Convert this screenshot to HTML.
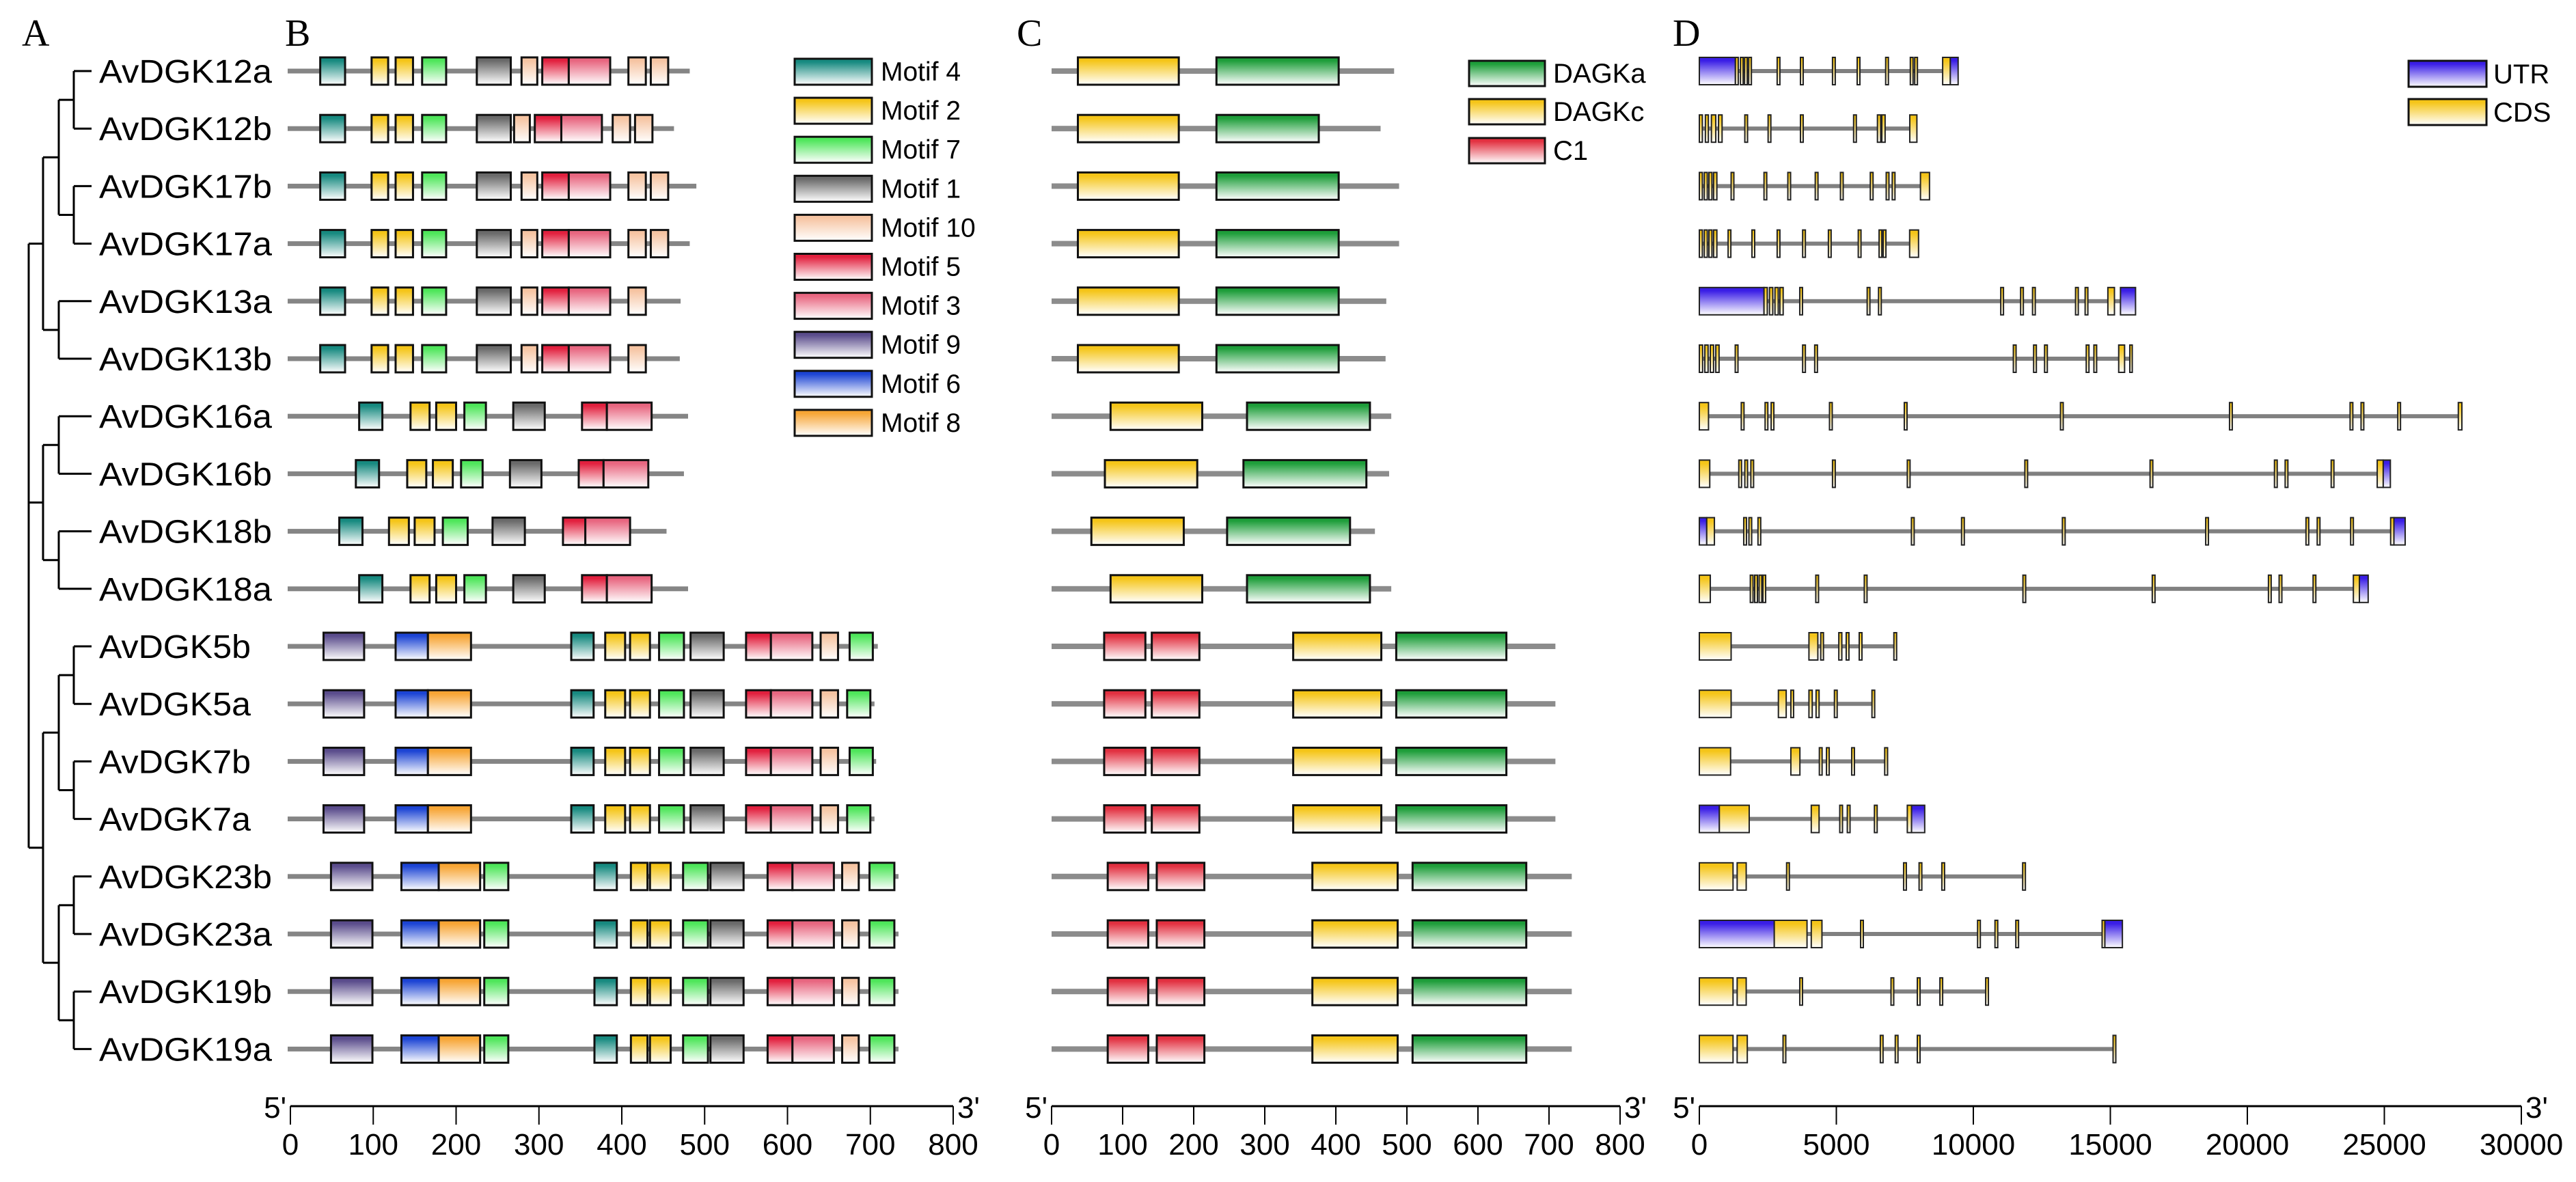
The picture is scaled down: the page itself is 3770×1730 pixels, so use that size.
<!DOCTYPE html>
<html><head><meta charset="utf-8"><style>
html,body{margin:0;padding:0;background:#fff;}
svg{display:block;}
</style></head><body>
<svg id="fig" xmlns="http://www.w3.org/2000/svg" width="3770" height="1730" viewBox="0 0 3770 1730">
<defs id="gradDefs"></defs>
<g font-family="Liberation Serif, serif" font-size="56" fill="#000">
<text x="32" y="67">A</text>
<text x="417" y="67">B</text>
<text x="1488" y="67">C</text>
<text x="2448" y="67">D</text>
</g>
<g id="treeG"></g>
<g id="labelsG"></g>
<g id="panelB"></g>
<g id="panelC"></g>
<g id="panelD"></g>
<g id="legendsG"></g>
<g id="axesG"></g>
</svg>
<script>
const names = ["AvDGK12a","AvDGK12b","AvDGK17b","AvDGK17a","AvDGK13a","AvDGK13b","AvDGK16a","AvDGK16b","AvDGK18b","AvDGK18a","AvDGK5b","AvDGK5a","AvDGK7b","AvDGK7a","AvDGK23b","AvDGK23a","AvDGK19b","AvDGK19a"];
const bLen = [482,463,490,482,471,470,480,475,454,480,709,705,707,705,734,734,734,734];
const bMotifs = [
 [[4,36,66],[2,98,118],[2,127,148],[7,159,188],[1,225,266],[10,279,298],[5,304,336],[3,336,386],[10,408,429],[10,435,456]],
 [[4,36,66],[2,98,118],[2,127,148],[7,159,188],[1,225,266],[10,270,289],[5,295,327],[3,327,376],[10,389,410],[10,416,437]],
 [[4,36,66],[2,98,118],[2,127,148],[7,159,188],[1,225,266],[10,279,298],[5,304,336],[3,336,386],[10,408,429],[10,435,456]],
 [[4,36,66],[2,98,118],[2,127,148],[7,159,188],[1,225,266],[10,279,298],[5,304,336],[3,336,386],[10,408,429],[10,435,456]],
 [[4,36,66],[2,98,118],[2,127,148],[7,159,188],[1,225,266],[10,279,298],[5,304,336],[3,336,386],[10,408,429]],
 [[4,36,66],[2,98,118],[2,127,148],[7,159,188],[1,225,266],[10,279,298],[5,304,336],[3,336,386],[10,408,429]],
 [[4,83,111],[2,145,168],[2,176,200],[7,210,236],[1,269,307],[5,352,382],[3,382,436]],
 [[4,79,107],[2,141,164],[2,172,196],[7,206,232],[1,265,303],[5,348,378],[3,378,432]],
 [[4,59,87],[2,119,143],[2,150,174],[7,184,214],[1,244,283],[5,329,356],[3,356,410]],
 [[4,83,111],[2,145,168],[2,176,200],[7,210,236],[1,269,307],[5,352,382],[3,382,436]],
 [[9,40,89],[6,127,166],[8,166,218],[4,339,366],[2,380,404],[2,410,434],[7,445,475],[1,483,523],[5,550,580],[3,580,630],[10,640,661],[7,675,703]],
 [[9,40,89],[6,127,166],[8,166,218],[4,339,366],[2,380,404],[2,410,434],[7,445,475],[1,483,523],[5,550,580],[3,580,630],[10,640,661],[7,672,700]],
 [[9,40,89],[6,127,166],[8,166,218],[4,339,366],[2,380,404],[2,410,434],[7,445,475],[1,483,523],[5,550,580],[3,580,630],[10,640,661],[7,675,703]],
 [[9,40,89],[6,127,166],[8,166,218],[4,339,366],[2,380,404],[2,410,434],[7,445,475],[1,483,523],[5,550,580],[3,580,630],[10,640,661],[7,672,700]],
 [[9,49,99],[6,134,179],[8,179,229],[7,234,263],[4,367,394],[2,411,431],[2,434,459],[7,474,504],[1,507,547],[5,576,606],[3,606,656],[10,666,686],[7,699,729]],
 [[9,49,99],[6,134,179],[8,179,229],[7,234,263],[4,367,394],[2,411,431],[2,434,459],[7,474,504],[1,507,547],[5,576,606],[3,606,656],[10,666,686],[7,699,729]],
 [[9,49,99],[6,134,179],[8,179,229],[7,234,263],[4,367,394],[2,411,431],[2,434,459],[7,474,504],[1,507,547],[5,576,606],[3,606,656],[10,666,686],[7,699,729]],
 [[9,49,99],[6,134,179],[8,179,229],[7,234,263],[4,367,394],[2,411,431],[2,434,459],[7,474,504],[1,507,547],[5,576,606],[3,606,656],[10,666,686],[7,699,729]]
];
const motifOrder = [4,2,7,1,10,5,3,9,6,8];
const motifColors = {4:"#178a80",2:"#f5c518",7:"#4ee65a",1:"#6a6a6a",10:"#f6c4a2",5:"#e2203e",3:"#e86680",9:"#5a4c8c",6:"#1c44d4",8:"#f7a534"};
const cLen = [482,463,489,489,471,470,478,475,455,478,709,709,709,709,732,732,732,732];
const cDomains = [
 [["c",37,179],["a",232,404]],[["c",37,179],["a",232,376]],[["c",37,179],["a",232,404]],[["c",37,179],["a",232,404]],
 [["c",37,179],["a",232,404]],[["c",37,179],["a",232,404]],
 [["c",83,212],["a",275,448]],[["c",75,205],["a",270,443]],[["c",56,186],["a",247,420]],[["c",83,212],["a",275,448]],
 [["C1",74,132],["C1",141,208],["c",340,464],["a",485,640]],[["C1",74,132],["C1",141,208],["c",340,464],["a",485,640]],
 [["C1",74,132],["C1",141,208],["c",340,464],["a",485,640]],[["C1",74,132],["C1",141,208],["c",340,464],["a",485,640]],
 [["C1",79,136],["C1",148,215],["c",367,487],["a",508,668]],[["C1",79,136],["C1",148,215],["c",367,487],["a",508,668]],
 [["C1",79,136],["C1",148,215],["c",367,487],["a",508,668]],[["C1",79,136],["C1",148,215],["c",367,487],["a",508,668]]
];
const domainColors = {a:"#1e9e3a",c:"#f5c518",C1:"#e23040"};
const dLen = [9445,7940,8400,8000,15920,15800,27830,25220,25760,24410,7200,6400,6870,8225,11900,15440,10550,15200];
const dExons = [
 [["U",0,1316],["C",1316,1420],["C",1500,1600],["C",1650,1750],["C",1800,1900],["C",2840,2940],["C",3690,3790],["C",4860,4960],["C",5760,5860],["C",6800,6900],["C",7700,7800],["C",7860,7960],["C",8880,9160],["U",9160,9445]],
 [["C",0,110],["C",220,330],["C",440,600],["C",700,830],["C",1660,1760],["C",2510,2610],["C",3690,3790],["C",5630,5730],["C",6500,6620],["C",6660,6780],["C",7680,7940]],
 [["C",0,110],["C",180,290],["C",350,460],["C",520,640],["C",1160,1260],["C",2360,2460],["C",3230,3330],["C",4230,4330],["C",5150,5250],["C",6240,6340],["C",6820,6920],["C",7040,7140],["C",8070,8400]],
 [["C",0,110],["C",180,290],["C",350,460],["C",520,640],["C",1050,1150],["C",1920,2020],["C",2840,2940],["C",3770,3870],["C",4710,4810],["C",5800,5900],["C",6560,6660],["C",6710,6810],["C",7675,8000]],
 [["U",0,2360],["C",2360,2480],["C",2560,2680],["C",2760,2880],["C",2940,3060],["C",3665,3765],["C",6125,6225],["C",6540,6640],["C",11000,11100],["C",11725,11825],["C",12160,12260],["C",13730,13830],["C",14080,14180],["C",14910,15150],["U",15370,15920]],
 [["C",0,120],["C",200,320],["C",400,520],["C",600,720],["C",1310,1410],["C",3770,3870],["C",4210,4310],["C",11460,11560],["C",12200,12300],["C",12600,12700],["C",14120,14220],["C",14400,14500],["C",15305,15520],["C",15710,15800]],
 [["C",0,335],["C",1530,1630],["C",2400,2500],["C",2620,2720],["C",4750,4850],["C",7480,7580],["C",13180,13280],["C",19350,19450],["C",23750,23850],["C",24150,24250],["C",25490,25590],["C",27700,27830]],
 [["C",0,380],["C",1440,1540],["C",1660,1760],["C",1880,1980],["C",4860,4960],["C",7590,7690],["C",11880,11980],["C",16450,16550],["C",20990,21090],["C",21380,21480],["C",23060,23160],["C",24740,24960],["U",24960,25220]],
 [["U",0,270],["C",270,550],["C",1620,1720],["C",1810,1910],["C",2140,2240],["C",7740,7840],["C",9570,9670],["C",13250,13350],["C",18480,18580],["C",22140,22240],["C",22550,22650],["C",23770,23870],["C",25230,25350],["U",25350,25760]],
 [["C",0,400],["C",1860,1960],["C",2020,2120],["C",2180,2280],["C",2320,2420],["C",4250,4350],["C",6020,6120],["C",11810,11910],["C",16530,16630],["C",20770,20870],["C",21160,21260],["C",22400,22500],["C",23870,24090],["U",24090,24410]],
 [["C",0,1160],["C",4000,4325],["C",4430,4530],["C",5090,5200],["C",5360,5460],["C",5835,5935],["C",7100,7200]],
 [["C",0,1160],["C",2885,3170],["C",3340,3440],["C",4000,4120],["C",4260,4370],["C",4930,5030],["C",6300,6400]],
 [["C",0,1140],["C",3340,3670],["C",4380,4480],["C",4640,4740],["C",5560,5660],["C",6765,6870]],
 [["U",0,730],["C",730,1820],["C",4085,4370],["C",5125,5225],["C",5400,5500],["C",6390,6490],["C",7590,7745],["U",7745,8225]],
 [["C",0,1230],["C",1380,1710],["C",3185,3285],["C",7455,7555],["C",8020,8120],["C",8850,8950],["C",11800,11900]],
 [["U",0,2735],["C",2735,3930],["C",4085,4475],["C",5885,5985],["C",10155,10255],["C",10790,10890],["C",11550,11650],["C",14700,14800],["U",14800,15440]],
 [["C",0,1230],["C",1380,1710],["C",3665,3765],["C",6995,7095],["C",7955,8055],["C",8780,8880],["C",10450,10550]],
 [["C",0,1230],["C",1380,1750],["C",3055,3155],["C",6605,6705],["C",7150,7250],["C",7955,8055],["C",15100,15200]]
];
const exonColors = {U:"#3a1ee6",C:"#f5c518"};
const bTicks = [0,100,200,300,400,500,600,700,800];
const cTicks = [0,100,200,300,400,500,600,700,800];
const dTicks = [0,5000,10000,15000,20000,25000,30000];

const NS = "http://www.w3.org/2000/svg";
function mk(tag, attrs, parent){ const e=document.createElementNS(NS,tag); for(const k in attrs) e.setAttribute(k,attrs[k]); if(parent) parent.appendChild(e); return e; }
const gradDefsEl = document.getElementById('gradDefs');
function grad(id,color){ const g=mk('linearGradient',{id:id,x1:0,y1:0,x2:0,y2:1},gradDefsEl); mk('stop',{offset:'0',"stop-color":color},g); mk('stop',{offset:'0.12',"stop-color":color},g); mk('stop',{offset:'1',"stop-color":"#ffffff"},g); }
for(const m in motifColors) grad('gm'+m, motifColors[m]);
for(const d in domainColors) grad('gd'+d, domainColors[d]);
for(const e in exonColors) grad('ge'+e, exonColors[e]);

const rowY = i => 104 + 84.2*i;
const BH = 40;
const bx = v => 425 + v*1.2125;
const cx = v => 1539 + v*1.04;
const dx = v => 2487 + v*0.0401;

const labEl = document.getElementById('labelsG');
names.forEach((n,i)=>{
  const t = mk('text',{x:145,y:rowY(i)+17,"font-family":"Liberation Sans, sans-serif","font-size":48,textLength:(n.length===8?253:222),lengthAdjust:"spacingAndGlyphs"},labEl);
  t.textContent=n;
  
  
});

const treeEl = document.getElementById('treeG');
function seg(x1,y1,x2,y2,p){ return mk('line',{x1:x1,y1:y1,x2:x2,y2:y2,stroke:"#000","stroke-width":3},p); }
function join(xv, ya, yb, xa, xb){ seg(xv,ya,xv,yb,treeEl); seg(xv,ya,xa,ya,treeEl); seg(xv,yb,xb,yb,treeEl); return (ya+yb)/2; }
const LEAFX = 134;
function pair(i,x){ return join(x,rowY(i),rowY(i+1),LEAFX,LEAFX); }
const p12 = pair(0,108), p17 = pair(2,108), p13 = join(86,rowY(4),rowY(5),LEAFX,LEAFX);
const n1217 = join(86,p12,p17,108,108);
const nTop = join(63,n1217,p13,86,86);
const p16 = join(86,rowY(6),rowY(7),LEAFX,LEAFX), p18 = join(86,rowY(8),rowY(9),LEAFX,LEAFX);
const nMid = join(63,p16,p18,86,86);
const p5 = pair(10,108), p7 = pair(12,108), p23 = pair(14,108), p19 = pair(16,108);
const n57 = join(86,p5,p7,108,108), n2319 = join(86,p23,p19,108,108);
const nBot = join(63,n57,n2319,86,86);
join(42,nTop,nBot,63,63); seg(42,nMid,63,nMid,treeEl);

const pb = document.getElementById('panelB');
names.forEach((n,i)=>{
  const g = mk('g',{},pb);
  
  
  mk('rect',{x:bx(0)-4,y:rowY(i)-3.5,width:bx(bLen[i])-bx(0)+4,height:7,fill:"#858585"},g);
  bMotifs[i].forEach(m=>{
    const r = mk('rect',{x:bx(m[1]),y:rowY(i)-BH/2,width:bx(m[2])-bx(m[1]),height:BH,fill:'url(#gm'+m[0]+')',stroke:"#111","stroke-width":3},g);
    
    
  });
});
const pc = document.getElementById('panelC');
names.forEach((n,i)=>{
  const g = mk('g',{},pc);
  
  
  mk('rect',{x:cx(0),y:rowY(i)-4,width:cx(cLen[i])-cx(0),height:8,fill:"#8c8c8c"},g);
  cDomains[i].forEach(d=>{
    const r = mk('rect',{x:cx(d[1]),y:rowY(i)-BH/2,width:cx(d[2])-cx(d[1]),height:BH,fill:'url(#gd'+d[0]+')',stroke:"#111","stroke-width":3},g);
    
    
  });
});
const pd = document.getElementById('panelD');
names.forEach((n,i)=>{
  const g = mk('g',{},pd);
  
  
  mk('rect',{x:dx(0),y:rowY(i)-3,width:dx(dLen[i])-dx(0),height:6,fill:"#808080"},g);
  dExons[i].forEach(e=>{
    const w = Math.max(dx(e[2])-dx(e[1]),3);
    const r = mk('rect',{x:dx(e[1]),y:rowY(i)-BH/2,width:w,height:BH,fill:'url(#ge'+e[0]+')',stroke:"#222","stroke-width":2},g);
    
    
  });
});

const lg = document.getElementById('legendsG');
motifOrder.forEach((m,k)=>{
  const y = 86 + k*57.1;
  const r = mk('rect',{x:1163,y:y,width:113,height:38,fill:'url(#gm'+m+')',stroke:"#111","stroke-width":3},lg);
  
  
  const t = mk('text',{x:1289,y:y+32,"font-family":"Liberation Sans, sans-serif","font-size":39},lg);
  t.textContent='Motif '+m;
  
  
});
[["a","DAGKa",89],["c","DAGKc",145],["C1","C1",202]].forEach(d=>{
  const r = mk('rect',{x:2150,y:d[2],width:111,height:37,fill:'url(#gd'+d[0]+')',stroke:"#111","stroke-width":3},lg);
  
  
  const t = mk('text',{x:2273,y:d[2]+32,"font-family":"Liberation Sans, sans-serif","font-size":40},lg);
  t.textContent=d[1];
  
  
});
[["U","UTR",89],["C","CDS",145]].forEach(d=>{
  const r = mk('rect',{x:3525,y:d[2],width:114,height:38,fill:'url(#ge'+d[0]+')',stroke:"#111","stroke-width":3},lg);
  
  
  const t = mk('text',{x:3649,y:d[2]+33,"font-family":"Liberation Sans, sans-serif","font-size":40},lg);
  t.textContent=d[1];
  
  
});

const axEl = document.getElementById('axesG');
function axis(name, ticks, sc, vmax){
  const g = mk('g',{},axEl);
  
  
  const y = 1619;
  mk('line',{x1:sc(0),y1:y,x2:sc(vmax),y2:y,stroke:"#000","stroke-width":3},g);
  ticks.forEach(v=>{
    mk('line',{x1:sc(v),y1:y,x2:sc(v),y2:y+27,stroke:"#000","stroke-width":2},g);
    const t = mk('text',{x:sc(v),y:1690,"text-anchor":"middle","font-family":"Liberation Sans, sans-serif","font-size":44},g);
    t.textContent=v;
    
    
  });
  const a = mk('text',{x:sc(0)-6,y:1636,"text-anchor":"end","font-family":"Liberation Sans, sans-serif","font-size":44},g);
  a.textContent="5'";
  
  
  const b = mk('text',{x:sc(vmax)+6,y:1636,"font-family":"Liberation Sans, sans-serif","font-size":44},g);
  b.textContent="3'";
  
  
}
axis('motif-axis', bTicks, bx, 800);
axis('domain-axis', cTicks, cx, 800);
axis('gene-axis', dTicks, dx, 30000);
</script>
</body></html>
